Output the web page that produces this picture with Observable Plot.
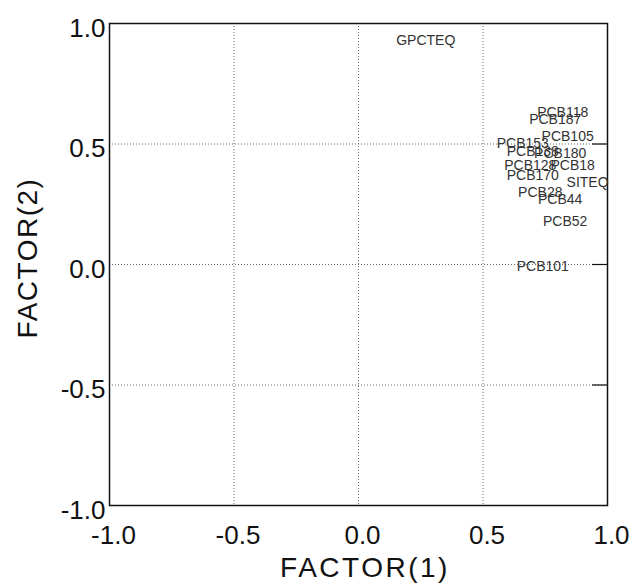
<!DOCTYPE html>
<html>
<head>
<meta charset="utf-8">
<script src="https://cdn.jsdelivr.net/npm/d3@7"></script>
<script src="https://cdn.jsdelivr.net/npm/@observablehq/plot@0.6"></script>
<style>
  html, body { margin: 0; padding: 0; background: #fff; }
  #chart svg { display: block; }
</style>
</head>
<body>
<div id="chart"></div>
<script>
// Variable labels and factor loadings
const labels = ["GPCTEQ", "PCB118", "PCB187", "PCB105", "PCB153", "PCB138", "PCB180",
  "PCB128", "PCB18", "PCB170", "SITEQ", "PCB28", "PCB44", "PCB52", "PCB101"];
const factor1 = [0.27, 0.82, 0.79, 0.84, 0.66, 0.70, 0.81,
  0.69, 0.86, 0.70, 0.92, 0.73, 0.81, 0.83, 0.74];
const factor2 = [0.93, 0.63, 0.60, 0.53, 0.50, 0.47, 0.46,
  0.41, 0.41, 0.37, 0.34, 0.30, 0.27, 0.18, -0.01];
const ticks = [-1, -0.5, 0, 0.5, 1];
const xTitle = "FACTOR(1)";
const yTitle = "FACTOR(2)";

const data = labels.map((l, i) => ({label: l, f1: factor1[i], f2: factor2[i]}));
const fmt = d => d.toFixed(1);
const font = "Liberation Sans, Arial, Helvetica, sans-serif";

const chart = Plot.plot({
  width: 635,
  height: 584,
  marginLeft: 109,
  marginRight: 28,
  marginTop: 23,
  marginBottom: 79,
  style: {fontFamily: font, background: "#fff", color: "#222"},
  x: {domain: [-1, 1]},
  y: {domain: [-1, 1]},
  marks: [
    Plot.gridX(ticks.slice(1, -1), {stroke: "#333", strokeOpacity: 0.9, strokeWidth: 0.8, strokeDasharray: "1,2"}),
    Plot.gridY(ticks.slice(1, -1), {stroke: "#333", strokeOpacity: 0.9, strokeWidth: 0.8, strokeDasharray: "1,2"}),
    Plot.axisY(ticks.slice(1, -1), {anchor: "right", tickSize: -16, stroke: "#111", strokeWidth: 1.2, text: null, label: null}),
    Plot.axisX(ticks, {anchor: "bottom", tickSize: 0, tickPadding: 20, dx: 4, tickFormat: fmt, fontSize: 26, fill: "#111", label: null}),
    Plot.axisY(ticks, {anchor: "left", tickSize: 0, tickPadding: 4, dy: 5, tickFormat: fmt, fontSize: 26, fill: "#111", label: null}),
    Plot.frame({stroke: "#111", strokeWidth: 1.5}),
    Plot.text(data, {x: "f1", y: "f2", text: "label", fontSize: 14, fill: "#333", letterSpacing: 0.5})
  ]
});

// axis titles styled to match
const svg = d3.select(chart);
svg.append("text")
  .attr("x", 365).attr("y", 567)
  .attr("text-anchor", "middle")
  .attr("dominant-baseline", "central")
  .attr("font-family", font)
  .attr("font-size", 28)
  .attr("letter-spacing", 2.5)
  .attr("fill", "#111")
  .text(xTitle);
svg.append("text")
  .attr("transform", "translate(27,258) rotate(-90)")
  .attr("text-anchor", "middle")
  .attr("dominant-baseline", "central")
  .attr("font-family", font)
  .attr("font-size", 28)
  .attr("letter-spacing", 1.5)
  .attr("fill", "#111")
  .text(yTitle);

document.getElementById("chart").append(chart);
</script>
</body>
</html>
